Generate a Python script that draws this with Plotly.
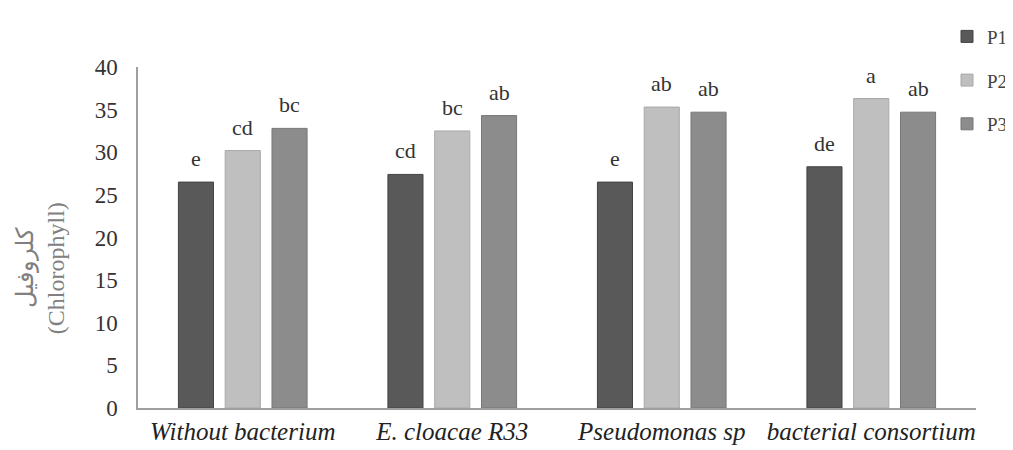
import plotly.graph_objects as go

categories = ["Without bacterium", "E. cloacae R33", "Pseudomonas sp", "bacterial consortium"]
series_names = ["P1", "P2", "P3"]
p1_values = [26.5, 27.4, 26.5, 28.3]
p2_values = [30.2, 32.5, 35.3, 36.3]
p3_values = [32.8, 34.3, 34.7, 34.7]
p1_letters = ["e", "cd", "e", "de"]
p2_letters = ["cd", "bc", "ab", "a"]
p3_letters = ["bc", "ab", "ab", "ab"]
y_ticks = [0, 5, 10, 15, 20, 25, 30, 35, 40]

series_values = [p1_values, p2_values, p3_values]
series_letters = [p1_letters, p2_letters, p3_letters]
fill_colors = ["#595959", "#bfbfbf", "#8c8c8c"]
line_colors = ["#444444", "#a8a8a8", "#777777"]

SERIF = "'Liberation Serif', 'Times New Roman', Times, serif"
BARGAP = 0.33
BARGROUPGAP = 0.25

fig = go.Figure()
for name, vals, fc, lc in zip(series_names, series_values, fill_colors, line_colors):
    fig.add_trace(go.Bar(
        x=categories, y=vals, name=name, legendgroup=name,
        marker=dict(color=fc, line=dict(color=lc, width=1)),
    ))

slot = (1 - BARGAP) / len(series_names)
annotations = []
for j, letters in enumerate(series_letters):
    for i, (val, lab) in enumerate(zip(series_values[j], letters)):
        annotations.append(dict(
            x=i + (j - 1) * slot, y=val, xref="x", yref="y",
            text=lab, showarrow=False, yanchor="bottom", yshift=9,
            font=dict(family=SERIF, size=22, color="#333333"),
        ))

annotations.append(dict(
    x=-0.117, y=0.41, xref="paper", yref="paper", xanchor="center", yanchor="middle",
    text="کلروفیل<br>(Chlorophyll)", textangle=-90, showarrow=False,
    font=dict(family=SERIF, size=24, color="#808080"),
))

fig.update_layout(
    width=1005, height=442,
    margin=dict(l=130, r=37, t=59, b=42, autoexpand=False),
    paper_bgcolor="white", plot_bgcolor="white",
    barmode="group", bargap=BARGAP, bargroupgap=BARGROUPGAP,
    showlegend=True,
    legend=dict(xref="container", x=1.006, xanchor="right", y=1.145, yanchor="top",
                font=dict(family=SERIF, size=19, color="#444444"),
                tracegroupgap=16, bgcolor="rgba(0,0,0,0)"),
    annotations=annotations,
    font=dict(family=SERIF, color="#333333"),
)
fig.update_xaxes(
    showline=True, linecolor="#a0a0a0", linewidth=1.5, ticks="", showgrid=False,
    tickfont=dict(family=SERIF, size=25, color="#222222", style="italic"),
)
fig.update_yaxes(
    range=[0, 40], tickvals=y_ticks, showline=True, linecolor="#a0a0a0", linewidth=1.5,
    ticks="", showgrid=False, zeroline=False, ticklabelstandoff=14,
    tickfont=dict(family=SERIF, size=23, color="#333333"),
)

fig.write_html("out.html")
